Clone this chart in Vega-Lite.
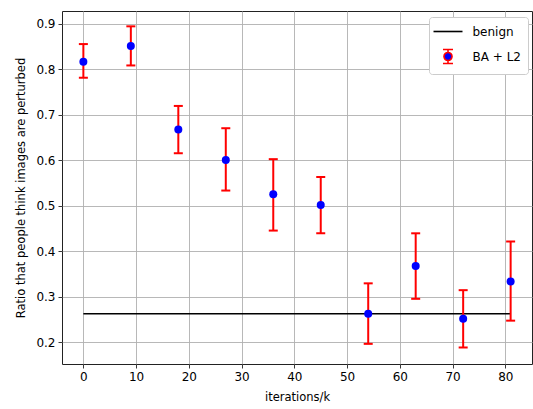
{
  "$schema": "https://vega.github.io/schema/vega-lite/v6.json",
  "width": 470,
  "height": 353,
  "autosize": "none",
  "padding": {"left": 62, "top": 11, "right": 1, "bottom": 45},
  "background": "white",
  "config": {
    "font": "DejaVu Sans",
    "view": {"stroke": "#222222", "strokeWidth": 1},
    "axis": {
      "labelFont": "DejaVu Sans", "labelFontSize": 12, "labelColor": "black",
      "titleFont": "DejaVu Sans", "titleFontSize": 11.5, "titleFontWeight": "normal", "titleColor": "black",
      "tickColor": "#222222", "tickSize": 4, "tickWidth": 0.9, "domain": false,
      "gridColor": "#b0b0b0", "gridWidth": 0.9, "gridOpacity": 1, "labelPadding": 3
    },
    "legend": {
      "orient": "none", "legendX": 367, "legendY": 6,
      "fillColor": "white", "strokeColor": "#cccccc", "cornerRadius": 3, "padding": 7,
      "symbolSize": 169, "symbolOffset": 4.5, "labelOffset": 17, "rowPadding": 8,
      "labelFont": "DejaVu Sans", "labelFontSize": 12, "labelColor": "black"
    }
  },
  "datasets": {
    "ba": [
      {"iter": 0, "mean": 0.816, "lo": 0.781, "hi": 0.855, "series": "BA + L2"},
      {"iter": 9, "mean": 0.851, "lo": 0.808, "hi": 0.894, "series": "BA + L2"},
      {"iter": 18, "mean": 0.667, "lo": 0.615, "hi": 0.719, "series": "BA + L2"},
      {"iter": 27, "mean": 0.600, "lo": 0.533, "hi": 0.670, "series": "BA + L2"},
      {"iter": 36, "mean": 0.525, "lo": 0.445, "hi": 0.602, "series": "BA + L2"},
      {"iter": 45, "mean": 0.501, "lo": 0.439, "hi": 0.563, "series": "BA + L2"},
      {"iter": 54, "mean": 0.262, "lo": 0.196, "hi": 0.329, "series": "BA + L2"},
      {"iter": 63, "mean": 0.367, "lo": 0.295, "hi": 0.439, "series": "BA + L2"},
      {"iter": 72, "mean": 0.251, "lo": 0.188, "hi": 0.314, "series": "BA + L2"},
      {"iter": 81, "mean": 0.333, "lo": 0.247, "hi": 0.421, "series": "BA + L2"}
    ],
    "benign": [
      {"iter": 0, "mean": 0.262, "series": "benign"},
      {"iter": 81, "mean": 0.262, "series": "benign"}
    ]
  },
  "encoding": {
    "x": {
      "field": "iter", "type": "quantitative",
      "scale": {"domain": [-4.05, 85.05], "nice": false, "zero": false},
      "axis": {"title": "iterations/k", "values": [0, 10, 20, 30, 40, 50, 60, 70, 80], "titlePadding": 9}
    }
  },
  "layer": [
    {
      "data": {"name": "benign"},
      "mark": {"type": "line", "strokeWidth": 1.5},
      "encoding": {
        "y": {
          "field": "mean", "type": "quantitative",
          "scale": {"domain": [0.1517, 0.9277], "nice": false, "zero": false},
          "axis": {"title": "Ratio that people think images are perturbed", "values": [0.2, 0.3, 0.4, 0.5, 0.6, 0.7, 0.8, 0.9], "format": ".1f", "titlePadding": 9}
        },
        "stroke": {
          "field": "series", "type": "nominal",
          "scale": {"domain": ["benign", "BA + L2"], "range": ["black", "red"]},
          "legend": {
            "title": null,
            "encode": {
              "symbols": {
                "update": {
                  "shape": [
                    {"test": "datum.value === 'benign'", "value": "M-2.23,0H2.23"},
                    {"value": "M-0.77,-1.08H0.77M0,-1.08V-0.65M0,0.65V1.08M-0.77,1.08H0.77M0.62,0A0.62,0.62 0 1 1 -0.62,0A0.62,0.62 0 1 1 0.62,0Z"}
                  ],
                  "strokeWidth": {"value": 1.6},
                  "opacity": {"value": 1},
                  "fillOpacity": {"value": 1},
                  "strokeOpacity": {"value": 1}
                }
              }
            }
          }
        }
      }
    },
    {
      "data": {"name": "ba"},
      "mark": {"type": "rule", "color": "red", "strokeWidth": 2},
      "encoding": {
        "y": {"field": "lo", "type": "quantitative"},
        "y2": {"field": "hi"}
      }
    },
    {
      "data": {"name": "ba"},
      "mark": {"type": "tick", "color": "red", "orient": "horizontal", "size": 9, "thickness": 2, "opacity": 1},
      "encoding": {
        "y": {"field": "lo", "type": "quantitative"}
      }
    },
    {
      "data": {"name": "ba"},
      "mark": {"type": "tick", "color": "red", "orient": "horizontal", "size": 9, "thickness": 2, "opacity": 1},
      "encoding": {
        "y": {"field": "hi", "type": "quantitative"}
      }
    },
    {
      "data": {"name": "ba"},
      "mark": {"type": "point", "filled": true, "size": 64, "opacity": 1, "strokeWidth": 0},
      "encoding": {
        "y": {"field": "mean", "type": "quantitative"},
        "fill": {
          "field": "series", "type": "nominal",
          "scale": {"domain": ["benign", "BA + L2"], "range": ["transparent", "blue"]},
          "legend": {
            "title": null,
            "encode": {
              "symbols": {
                "update": {
                  "shape": [
                    {"test": "datum.value === 'benign'", "value": "M-2.23,0H2.23"},
                    {"value": "M-0.77,-1.08H0.77M0,-1.08V-0.65M0,0.65V1.08M-0.77,1.08H0.77M0.62,0A0.62,0.62 0 1 1 -0.62,0A0.62,0.62 0 1 1 0.62,0Z"}
                  ],
                  "strokeWidth": {"value": 1.6},
                  "opacity": {"value": 1},
                  "fillOpacity": {"value": 1},
                  "strokeOpacity": {"value": 1}
                }
              }
            }
          }
        }
      }
    }
  ]
}
